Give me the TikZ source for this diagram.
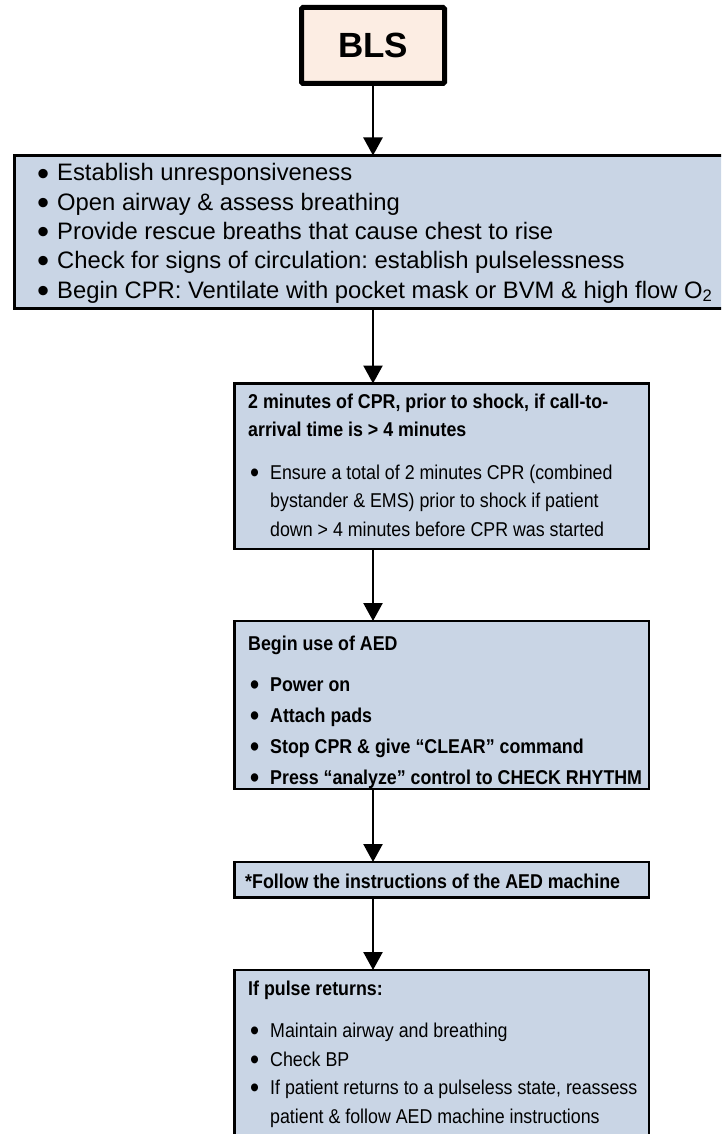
\documentclass[tikz,border=0pt]{standalone}
\usepackage{fontspec}
\setmainfont{Liberation Sans}
\newfontfamily\narrowface[FakeStretch=0.89]{Liberation Sans}
\usetikzlibrary{arrows.meta}
\definecolor{blsfill}{HTML}{FCEDE3}
\definecolor{boxfill}{HTML}{C9D5E5}
\newcommand\bul{\makebox[22pt][l]{\hspace{2pt}\smash{\raisebox{-0.17em}{\scalebox{1.45}{\textbullet}}}}}
\frenchspacing
\tikzset{
	stepbox/.style={draw=black,line width=2.8pt,fill=boxfill,inner sep=0pt,outer sep=0pt,anchor=north west},
	txt/.style={anchor=base west,inner sep=0pt,font=\narrowface\fontsize{20}{28.5}\selectfont},
	flow/.style={line width=2.4pt,-{Triangle[length=18pt,width=19pt]}},
}
\begin{document}
\begin{tikzpicture}[x=1pt,y=1pt]
		\useasboundingbox (0,0) rectangle (721,-1134);
		\clip (0,0) rectangle (721,-1134);
		% boxes
		\node[draw=black,line width=5pt,fill=blsfill,rounded corners=1.5pt,minimum width=143pt,minimum height=76pt,inner sep=0pt,outer sep=0pt,font=\bfseries\fontsize{35}{35}\selectfont] (bls) at (373,-45.5) {BLS};
		\node[stepbox,minimum width=717pt,minimum height=153pt] (survey) at (14.5,-155.5) {};
		\node[stepbox,minimum width=414.5pt,minimum height=165.5pt] (cpr) at (234.5,-383.5) {};
		\node[stepbox,minimum width=414.5pt,minimum height=168pt] (aed) at (234.5,-621) {};
		\node[stepbox,minimum width=414.5pt,minimum height=35.5pt] (follow) at (234.5,-862) {};
		\node[stepbox,minimum width=414.5pt,minimum height=220pt] (pulse) at (234.5,-970) {};
		% texts
		\node[txt,font=\fontsize{23.8}{29.3}\selectfont] (surveytxt) at (35,-181) {\begin{tabular}[t]{@{}l@{}l@{}}
			\bul & Establish unresponsiveness\\
			\bul & Open airway \& assess breathing\\
			\bul & Provide rescue breaths that cause chest to rise\\
			\bul & Check for signs of circulation: establish pulselessness\\
			\bul & Begin CPR: Ventilate with pocket mask or BVM \& high flow O\textsubscript{2}
		\end{tabular}};
		\node[txt] (cprtxt) at (248,-408) {\begin{tabular}[t]{@{}l@{}l@{}}
			\multicolumn{2}{@{}l@{}}{\bfseries 2 minutes of CPR, prior to shock, if call-to-}\\
			\multicolumn{2}{@{}l@{}}{\bfseries arrival time is > 4 minutes}\\[14pt]
			\bul & Ensure a total of 2 minutes CPR (combined\\
			& bystander \& EMS) prior to shock if patient\\
			& down > 4 minutes before CPR was started
		\end{tabular}};
		\node[txt,font=\narrowface\fontsize{20}{31}\selectfont] (aedtxt) at (248,-650) {\bfseries\begin{tabular}[t]{@{}l@{}l@{}}
			\multicolumn{2}{@{}l@{}}{Begin use of AED}\\[10.5pt]
			\bul & Power on\\
			\bul & Attach pads\\
			\bul & Stop CPR \& give “CLEAR” command\\
			\bul & Press “analyze” control to CHECK RHYTHM
		\end{tabular}};
		\node[txt,font=\narrowface\bfseries\fontsize{20}{28.5}\selectfont] (followtxt) at (245,-888) {*Follow the instructions of the AED machine};
		\node[txt] (pulsetxt) at (248,-995) {\begin{tabular}[t]{@{}l@{}l@{}}
			\multicolumn{2}{@{}l@{}}{\bfseries If pulse returns:}\\[14pt]
			\bul & Maintain airway and breathing\\
			\bul & Check BP\\
			\bul & If patient returns to a pulseless state, reassess\\
			& patient \& follow AED machine instructions
		\end{tabular}};
		% arrows
		\draw[flow] (bls.south) -- (bls.south |- survey.north);
		\draw[flow] (survey.south -| bls.south) -- (cpr.north -| bls.south);
		\draw[flow] (cpr.south -| bls.south) -- (aed.north -| bls.south);
		\draw[flow] (aed.south -| bls.south) -- (follow.north -| bls.south);
		\draw[flow] (follow.south -| bls.south) -- (pulse.north -| bls.south);
	\end{tikzpicture}
\end{document}
